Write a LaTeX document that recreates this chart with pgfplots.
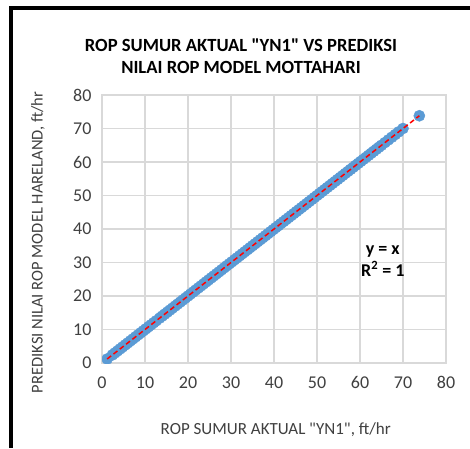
\documentclass[border=0pt]{standalone}
\usepackage{pgfplots}
\pgfplotsset{compat=1.18}
\usepackage{fontspec}
\setmainfont{Carlito}[Ligatures=TeXOff]
\definecolor{ptblue}{RGB}{91,155,213}
\definecolor{gridgray}{RGB}{217,217,217}
\definecolor{txtgray}{RGB}{64,64,64}
\begin{document}
\begin{tikzpicture}[x=1pt,y=1pt]
\useasboundingbox (0,0) rectangle (470,448);
\fill[white] (0,0) rectangle (470,448);
\draw[line width=4pt] (11,0) -- (11,440) -- (470,440);
\node[font=\fontsize{18.6}{22}\selectfont\bfseries, align=center] at (241,392) {ROP SUMUR AKTUAL "YN1" VS PREDIKSI\\NILAI ROP MODEL MOTTAHARI};
\begin{axis}[
  at={(102pt,85pt)}, anchor=south west,
  scale only axis, width=344pt, height=268pt,
  xmin=0, xmax=80, ymin=0, ymax=80,
  xtick={0,10,...,80}, ytick={0,10,...,80},
  grid=major,
  major grid style={gridgray, line width=1.3pt},
  axis line style={gridgray, line width=1.3pt},
  major tick length=0pt,
  clip marker paths=true,
  /pgf/number format/assume math mode=true,
  ticklabel style={font=\fontsize{18}{20}\selectfont, text=txtgray},
  xticklabel style={yshift=-10pt},
  yticklabel style={xshift=-7pt},
  xlabel={ROP SUMUR AKTUAL "YN1", ft/hr},
  ylabel={PREDIKSI NILAI ROP MODEL HARELAND, ft/hr},
  label style={font=\fontsize{17}{20}\selectfont, text=txtgray},
  xlabel style={at={(axis description cs:0.505,-0.25)}, anchor=center},
  ylabel style={at={(axis description cs:-0.186,0.45)}, anchor=center, rotate=0, font=\fontsize{16.5}{20}\selectfont},
]
\addplot[only marks, mark=*, mark size=5.6pt, mark options={fill=ptblue, draw=ptblue}] table[row sep=\\] {
x y\\
1.2 1.2\\ 2.4 2.4\\ 3.0 3.0\\ 3.6 3.6\\ 4.2 4.2\\ 4.8 4.8\\ 5.4 5.4\\ 6.0 6.0\\ 6.6 6.6\\ 7.2 7.2\\
7.8 7.8\\ 8.4 8.4\\ 9.0 9.0\\ 9.6 9.6\\ 10.2 10.2\\ 10.8 10.8\\ 11.4 11.4\\ 12.0 12.0\\ 12.6 12.6\\ 13.4 13.4\\
14.0 14.0\\ 14.6 14.6\\ 15.2 15.2\\ 15.8 15.8\\ 16.4 16.4\\ 17.0 17.0\\ 17.6 17.6\\ 18.2 18.2\\ 18.8 18.8\\ 19.4 19.4\\
20.0 20.0\\ 20.6 20.6\\ 21.2 21.2\\ 21.8 21.8\\ 22.4 22.4\\ 23.0 23.0\\ 23.6 23.6\\ 24.2 24.2\\ 24.8 24.8\\ 25.4 25.4\\
26.0 26.0\\ 26.6 26.6\\ 27.2 27.2\\ 27.8 27.8\\ 28.4 28.4\\ 29.0 29.0\\ 29.6 29.6\\ 30.2 30.2\\ 30.8 30.8\\ 31.4 31.4\\
32.0 32.0\\ 32.6 32.6\\ 33.2 33.2\\ 33.8 33.8\\ 34.4 34.4\\ 35.0 35.0\\ 35.6 35.6\\ 36.2 36.2\\ 36.8 36.8\\ 37.4 37.4\\
38.0 38.0\\ 38.6 38.6\\ 39.2 39.2\\ 39.8 39.8\\ 40.4 40.4\\ 41.0 41.0\\ 41.6 41.6\\ 42.2 42.2\\ 42.8 42.8\\ 43.4 43.4\\
44.0 44.0\\ 44.6 44.6\\ 45.2 45.2\\ 45.8 45.8\\ 46.4 46.4\\ 47.0 47.0\\ 47.6 47.6\\ 48.2 48.2\\ 48.8 48.8\\ 49.4 49.4\\
50.0 50.0\\ 50.6 50.6\\ 51.2 51.2\\ 51.8 51.8\\ 52.4 52.4\\ 53.0 53.0\\ 53.6 53.6\\ 54.2 54.2\\ 54.8 54.8\\ 55.4 55.4\\
56.0 56.0\\ 56.6 56.6\\ 57.2 57.2\\ 57.8 57.8\\ 58.4 58.4\\ 59.0 59.0\\ 59.6 59.6\\ 60.2 60.2\\ 60.8 60.8\\ 61.4 61.4\\
62.0 62.0\\ 62.6 62.6\\ 63.2 63.2\\ 63.8 63.8\\ 64.4 64.4\\ 65.0 65.0\\ 65.8 65.8\\ 66.6 66.6\\ 67.4 67.4\\ 68.2 68.2\\
69.0 69.0\\ 70.0 70.0\\ 73.8 73.8\\
};
\addplot[red, line width=1.5pt, dash pattern=on 5pt off 3pt] coordinates {(1.2,1.2) (73.8,73.8)};
\node[font=\fontsize{18}{22}\selectfont\bfseries, align=center] at (axis cs:65.3,30.5) {y = x\\R\textsuperscript{2} = 1};
\end{axis}
\end{tikzpicture}
\end{document}
